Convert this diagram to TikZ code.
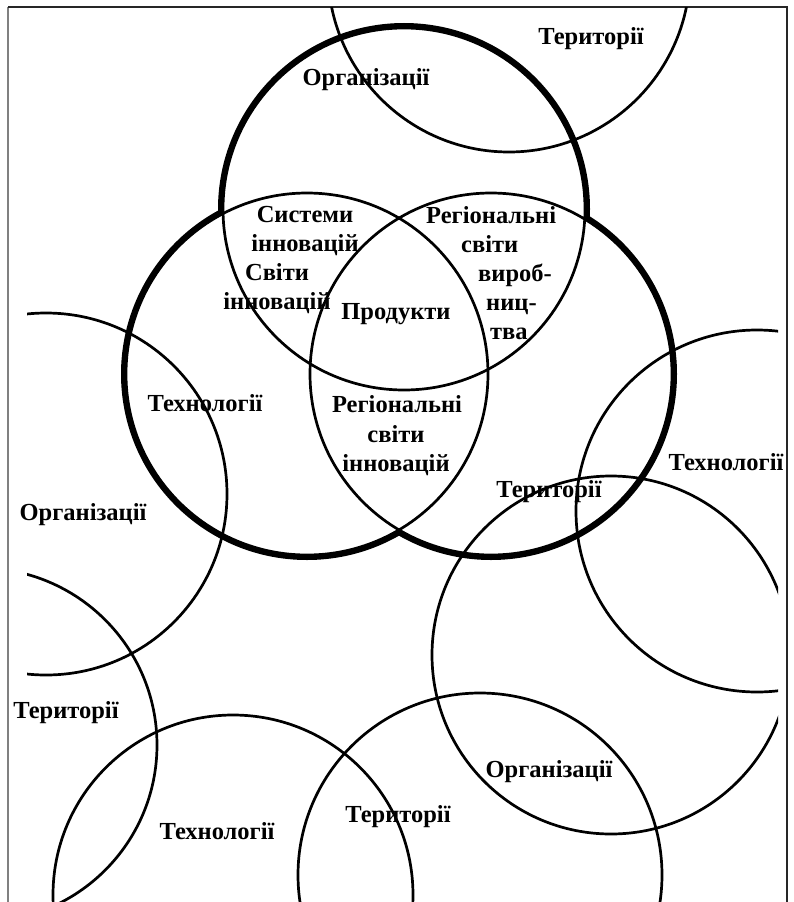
\documentclass[tikz,border=0pt]{standalone}
\usepackage{fontspec}
\setmainfont{Liberation Serif}
\begin{document}
\begin{tikzpicture}[x=1pt,y=-1pt,
  thinring/.style={line width=2.7pt, draw=black},
  thickring/.style={line width=10pt, draw=black},
  lbl/.style={font=\bfseries\fontsize{24.5}{29}\selectfont, inner sep=0pt, anchor=base},
  lblw/.style={lbl, anchor=base west}]
\useasboundingbox (0,0) rectangle (793,902);
% frame
\draw[line width=1.5pt, draw=gray] (8,902) -- (8,7);
\draw[line width=1.5pt, draw=black!85] (8,7) -- (787,7) -- (787,902);
% centres
\coordinate (cT) at (404,209);
\coordinate (cL) at (307,374);
\coordinate (cR) at (491,374);
\coordinate (cTerrTop) at (509,-29);
\coordinate (cOrgLeft) at (46,494);
\coordinate (cTerrLeft) at (-20,745);
\coordinate (cTechBot) at (233,895);
\coordinate (cTerrBot) at (480,875);
\coordinate (cOrgBR) at (611,655);
\coordinate (cTechRight) at (757,511);
\begin{scope}
\clip (27,7) rectangle (778,902);
% thick outer boundary of the three main circles
\foreach \c in {cT,cL,cR} \draw[thickring] (\c) circle[radius=181];
\foreach \c in {cT,cL,cR} \fill[white] (\c) circle[radius=181];
\foreach \c in {cT,cL,cR} \draw[thinring] (\c) circle[radius=181];
% outer thin circles
\draw[thinring] (cTerrTop) circle[radius=181];
\draw[thinring] (cOrgLeft) circle[radius=181];
\draw[thinring] (cTerrLeft) circle[radius=177];
\draw[thinring] (cTechBot) circle[radius=180];
\draw[thinring] (cTerrBot) circle[radius=182];
\draw[thinring] (cOrgBR) circle[radius=179];
\draw[thinring] (cTechRight) circle[radius=181];
\end{scope}
% labels
\node[lbl] (orgtop) at (366,85) {Організації};
\node[lbl] (terrtop) at (591,44) {Території};
\node[lbl] (sys1) at (305,222) {Системи};
\node[lbl] (sys2) at (305,251) {інновацій};
\node[lbl] (sv1) at (277,280) {Світи};
\node[lbl] (sv2) at (277,309) {інновацій};
\node[lblw] (rp1) at (426,223) {Регіональні};
\node[lblw] (rp2) at (461,252) {світи};
\node[lblw] (rp3) at (478,281) {вироб-};
\node[lblw] (rp4) at (486,310) {ниц-};
\node[lblw] (rp5) at (490,339) {тва};
\node[lbl] (prod) at (396,319) {Продукти};
\node[lbl] (ri1) at (397,412) {Регіональні};
\node[lbl] (ri2) at (396,442) {світи};
\node[lbl] (ri3) at (396,471) {інновацій};
\node[lbl] (techL) at (205,411) {Технології};
\node[lbl] (orgL) at (83,520) {Організації};
\node[lbl] (terrM) at (549,497) {Території};
\node[lbl] (techR) at (726,470) {Технології};
\node[lbl] (terrLB) at (66,718) {Території};
\node[lbl] (techB) at (217,839) {Технології};
\node[lbl] (terrB) at (398,822) {Території};
\node[lbl] (orgBR) at (549,777) {Організації};
\end{tikzpicture}
\end{document}
